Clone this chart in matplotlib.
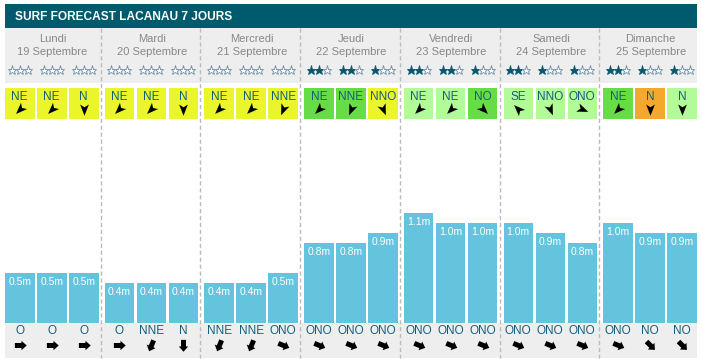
import numpy as np
import matplotlib.pyplot as plt
from matplotlib.markers import MarkerStyle
from matplotlib.path import Path
from matplotlib.patches import Rectangle
from matplotlib.transforms import Affine2D

plt.rcParams['font.family'] = ['Liberation Sans', 'DejaVu Sans']

title = 'SURF FORECAST LACANAU 7 JOURS'
days = ['Lundi', 'Mardi', 'Mercredi', 'Jeudi', 'Vendredi', 'Samedi', 'Dimanche']
dates = ['19 Septembre', '20 Septembre', '21 Septembre', '22 Septembre',
         '23 Septembre', '24 Septembre', '25 Septembre']
stars = [[0, 0, 0], [0, 0, 0], [0, 0, 0], [2, 2, 1], [2, 2, 1], [2, 1, 1], [2, 1, 1]]
wind_dir = [['NE', 'NE', 'N'], ['NE', 'NE', 'N'], ['NE', 'NE', 'NNE'],
            ['NE', 'NNE', 'NNO'], ['NE', 'NE', 'NO'], ['SE', 'NNO', 'ONO'],
            ['NE', 'N', 'N']]
# y = yellow, g = green, l = light green, o = orange
wind_rating = [['y', 'y', 'y'], ['y', 'y', 'y'], ['y', 'y', 'y'],
               ['g', 'g', 'y'], ['l', 'l', 'g'], ['l', 'l', 'l'],
               ['g', 'o', 'l']]
wave_height = [[0.5, 0.5, 0.5], [0.4, 0.4, 0.4], [0.4, 0.4, 0.5],
               [0.8, 0.8, 0.9], [1.1, 1.0, 1.0], [1.0, 0.9, 0.8],
               [1.0, 0.9, 0.9]]
swell_dir = [['O', 'O', 'O'], ['O', 'NNE', 'N'], ['NNE', 'NNE', 'ONO'],
             ['ONO', 'ONO', 'ONO'], ['ONO', 'ONO', 'ONO'], ['ONO', 'ONO', 'ONO'],
             ['ONO', 'NO', 'NO']]

compass = ['N', 'NNE', 'NE', 'ENE', 'E', 'ESE', 'SE', 'SSE',
           'S', 'SSO', 'SO', 'OSO', 'O', 'ONO', 'NO', 'NNO']
box_colors = {'y': '#eaf52b', 'g': '#66dd44', 'l': '#b3fb99', 'o': '#f5a92c'}
teal = '#005a6e'
text_blue = '#14607c'
bar_color = '#64c3dd'

dart = Path([(0, 1), (0.7, -0.8), (0, -0.35), (-0.7, -0.8), (0, 1)],
            [Path.MOVETO, Path.LINETO, Path.LINETO, Path.LINETO, Path.CLOSEPOLY])
block = Path([(0, 1), (0.75, 0.15), (0.4, 0.15), (0.4, -0.9), (-0.4, -0.9),
              (-0.4, 0.15), (-0.75, 0.15), (0, 1)],
             [Path.MOVETO] + [Path.LINETO] * 6 + [Path.CLOSEPOLY])


def arrow_marker(path, direction):
    # arrow points where the flow goes (from direction + 180)
    bearing = compass.index(direction) * 22.5 + 180
    return MarkerStyle(path, transform=Affine2D().rotate_deg(-bearing))


fig = plt.figure(figsize=(7.01, 3.64), dpi=100)
ax = fig.add_axes([0, 0, 1, 1])
ax.set_xlim(0, 701)
ax.set_ylim(364, 0)
ax.axis('off')

left, right = 5, 697
day_w = 99.7
offsets = [0, 32, 64]
cell_w = 29.5
base = 322.5

ax.add_patch(Rectangle((left, 4), right - left, 24, color=teal, lw=0))
ax.text(15, 16.5, title, color='white', fontsize=8.6, fontweight='bold', va='center')
ax.add_patch(Rectangle((left, 28), right - left, 54.5, color='#eeeeee', lw=0))
ax.add_patch(Rectangle((left, base), right - left, 35, color='#eeeeee', lw=0))

for d in range(len(days)):
    ds = left + d * day_w
    cx_day = ds + 47.5
    ax.text(cx_day, 39.5, days[d], color='#888888', fontsize=8, ha='center', va='center')
    ax.text(cx_day, 52, dates[d], color='#888888', fontsize=8, ha='center', va='center')
    if d > 0:
        ax.plot([ds - 4, ds - 4], [28, 358], color='#bbbbbb', lw=1, ls=(0, (3, 2)))
    for k in range(3):
        x0 = ds + offsets[k]
        cx = x0 + cell_w / 2
        for s in range(3):
            filled = s < stars[d][k]
            ax.plot(cx - 8 + 8 * s, 70, marker='*', ms=6.6, mew=0.6,
                    mfc='#0c5670' if filled else 'white',
                    mec='#0c5670' if filled else '#6b8ea3')
        ax.add_patch(Rectangle((x0, 88), cell_w, 31,
                               color=box_colors[wind_rating[d][k]], lw=0))
        ax.text(cx, 96.5, wind_dir[d][k], color=text_blue, fontsize=8.5,
                ha='center', va='center')
        ax.plot(cx, 109, marker=arrow_marker(dart, wind_dir[d][k]), ms=9,
                color='black', mew=0)
        h = wave_height[d][k]
        ax.bar(x0, -h * 100, width=cell_w, bottom=base, align='edge',
               color=bar_color, lw=0)
        ax.text(cx, base - h * 100 + 9.5, f'{h:.1f}m', color='white', fontsize=7.5,
                ha='center', va='center')
        ax.text(cx, 331.5, swell_dir[d][k], color=text_blue, fontsize=8.5,
                ha='center', va='center')
        ax.plot(cx, 345, marker=arrow_marker(block, swell_dir[d][k]), ms=9,
                color='black', mew=0)

fig.savefig('out.png', dpi=100)
